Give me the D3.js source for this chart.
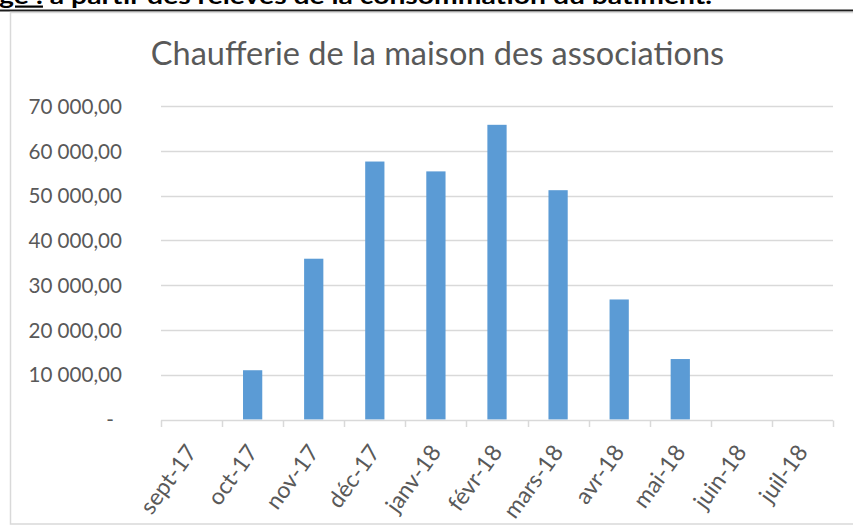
<!DOCTYPE html>
<html>
<head>
<meta charset="utf-8">
<script src="https://cdn.jsdelivr.net/npm/d3@7"></script>
<style>
  html, body { margin: 0; padding: 0; background: #fff; }
  svg { display: block; }
</style>
</head>
<body>
<svg id="chart" width="853" height="530"></svg>
<script>
// Monthly consumption of the boiler room, Sept 2017 – July 2018
const months = ["sept-17", "oct-17", "nov-17", "déc-17", "janv-18", "févr-18",
                "mars-18", "avr-18", "mai-18", "juin-18", "juil-18"];
const consumption = [0, 11000, 35900, 57600, 55400, 65800, 51200, 26800, 13500, 0, 0];
const yTicks = [0, 10000, 20000, 30000, 40000, 50000, 60000, 70000];
const chartTitle = "Chaufferie de la maison des associations";
const captionLead = "ge :";
const captionRest = " à partir des relevés de la consommation du bâtiment.";

const W = 853, H = 530;
const FONT = "Lato, 'Open Sans', sans-serif";
const TEXT_GREY = "#595959";
const GRID = "#D9D9D9";
const BAR = "#5B9BD5";

const svg = d3.select("#chart");
svg.append("rect").attr("width", W).attr("height", H).attr("fill", "#fff");

// French number formatting: "70 000,00", zero shown as a dash
const fr = d3.formatLocale({ decimal: ",", thousands: "\u00a0", grouping: [3], currency: ["", " €"] });
const fmt = fr.format(",.2f");

// Document caption line above the chart (cut at the top of the page)
const cap = svg.append("text")
  .attr("x", -1).attr("y", 3.5)
  .attr("font-family", "Lato, sans-serif")
  .attr("font-weight", "bold")
  .attr("font-size", 22)
  .attr("fill", "#000");
cap.append("tspan").attr("text-decoration", "underline").text(captionLead);
cap.append("tspan").text(captionRest);
cap.attr("textLength", 713).attr("lengthAdjust", "spacingAndGlyphs");

// Page rule under the caption
svg.append("rect").attr("x", 0).attr("y", 9.5).attr("width", W).attr("height", 2).attr("fill", "#1e1e1e");

// Chart area frame
svg.append("rect")
  .attr("x", 10.5).attr("y", 12.5)
  .attr("width", W + 20).attr("height", 511.5)
  .attr("fill", "#fff")
  .attr("stroke", GRID).attr("stroke-width", 1.5);

// Plot area
const plot = { left: 161, right: 833, top: 106, bottom: 419.5 };

const x = d3.scaleBand().domain(months).range([plot.left, plot.right]).paddingInner(0).paddingOuter(0);
const y = d3.scaleLinear().domain([0, 70000]).range([plot.bottom, plot.top]);

// Title
svg.append("text")
  .attr("x", 437.5).attr("y", 65)
  .attr("text-anchor", "middle")
  .attr("font-family", FONT)
  .attr("font-size", 32.5)
  .attr("fill", TEXT_GREY)
  .text(chartTitle);

// Horizontal gridlines
svg.append("g")
  .selectAll("line")
  .data(yTicks.filter(d => d > 0))
  .join("line")
  .attr("x1", plot.left).attr("x2", plot.right)
  .attr("y1", d => Math.round(y(d)) + 0.5).attr("y2", d => Math.round(y(d)) + 0.5)
  .attr("stroke", GRID).attr("stroke-width", 1.5);

// Value axis labels
const yAxis = d3.axisLeft(y)
  .tickValues(yTicks)
  .tickSize(0)
  .tickPadding(0)
  .tickFormat(d => d === 0 ? "-" : fmt(d));
const gy = svg.append("g").attr("transform", `translate(122,0)`).call(yAxis);
gy.select(".domain").remove();
gy.selectAll("text")
  .attr("font-family", FONT)
  .attr("font-size", 20.6)
  .attr("fill", TEXT_GREY)
  .attr("dy", "0.35em")
  .attr("dx", d => d === 0 ? -8 : 0);

// Bars
const barW = x.bandwidth() * 0.315;
svg.append("g")
  .selectAll("rect")
  .data(months.map((m, i) => ({ m, v: consumption[i] })).filter(d => d.v > 0))
  .join("rect")
  .attr("x", d => x(d.m) + (x.bandwidth() - barW) / 2)
  .attr("y", d => y(d.v))
  .attr("width", barW)
  .attr("height", d => y(0) - y(d.v))
  .attr("fill", BAR);

// Category axis: baseline and boundary tick marks
const axisY = Math.round(y(0)) + 0.5;
svg.append("line")
  .attr("x1", plot.left).attr("x2", plot.right)
  .attr("y1", axisY).attr("y2", axisY)
  .attr("stroke", GRID).attr("stroke-width", 1.5);

const bounds = months.map(m => x(m)).concat([x(months[months.length - 1]) + x.bandwidth()]);
svg.append("g")
  .selectAll("line")
  .data(bounds)
  .join("line")
  .attr("x1", d => Math.round(d) + 0.5).attr("x2", d => Math.round(d) + 0.5)
  .attr("y1", axisY).attr("y2", axisY + 6.5)
  .attr("stroke", GRID).attr("stroke-width", 1.5);

// Rotated month labels
svg.append("g")
  .selectAll("text")
  .data(months)
  .join("text")
  .attr("transform", d => `translate(${x(d) + x.bandwidth() / 2 - 1},447) rotate(-54)`)
  .attr("text-anchor", "end")
  .attr("dominant-baseline", "central")
  .attr("font-family", FONT)
  .attr("font-size", 23)
  .attr("fill", TEXT_GREY)
  .text(d => d);
</script>
</body>
</html>
